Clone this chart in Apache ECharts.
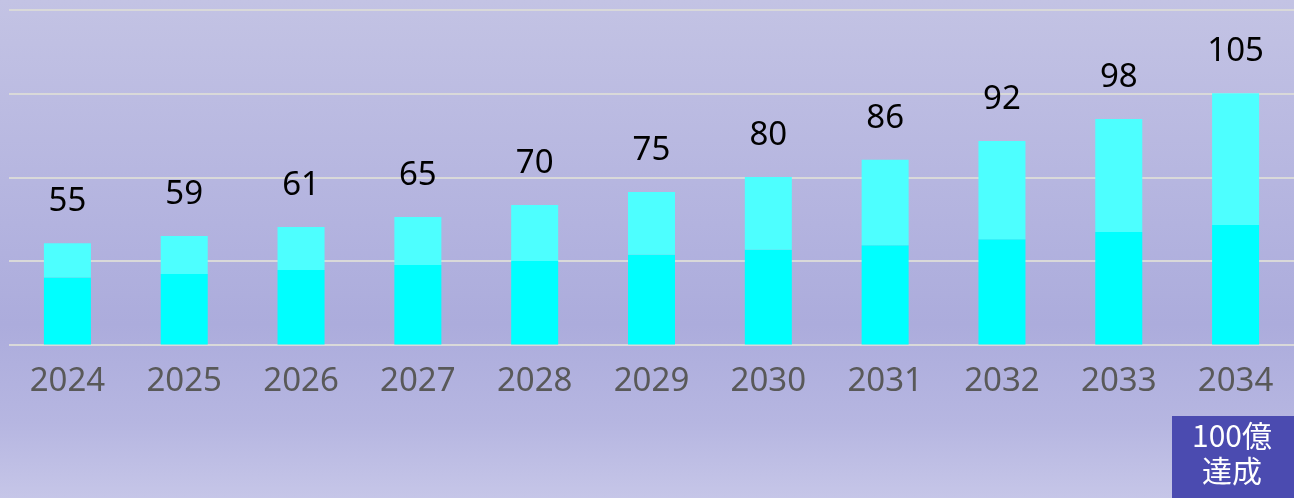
<!DOCTYPE html>
<html lang="ja">
<head>
    <meta charset="UTF-8">
    <title>売上推移</title>
    <style>
        html,body{
            margin: 0;
            padding: 0;
            width: 100%;
            height: 100%;
        }
        body{
            background: linear-gradient(to bottom, #c3c3e4 0%, #b3b3df 45%, #acacdc 65%, #b6b6e1 85%, #c6c6e8 100%);
        }
        #chartmain{
            width: 1294px;
            height: 498px;
        }
    </style>
</head>
<body>
<div id="chartmain"></div>

<script src="https://cdn.jsdelivr.net/npm/echarts@6/dist/echarts.min.js"></script>
<script type="text/javascript">
    // 年度
    var years = ['2024', '2025', '2026', '2027', '2028', '2029', '2030', '2031', '2032', '2033', '2034'];
    // 下段（濃いシアン）
    var lower = [20.0, 21.1, 22.3, 23.8, 25.0, 26.8, 28.3, 29.7, 31.5, 33.6, 35.7];
    // 上段（薄いシアン）
    var upper = [10.3, 11.3, 12.8, 14.3, 16.7, 18.8, 21.8, 25.5, 29.3, 33.8, 39.4];
    // 棒の上の数値
    var totals = [55, 59, 61, 65, 70, 75, 80, 86, 92, 98, 105];

    var myChart = echarts.init(document.getElementById('chartmain'));

    var option = {
        backgroundColor: 'transparent',
        animation: false,
        grid: {
            left: 9,
            right: 0,
            top: 10,
            bottom: 153.5
        },
        xAxis: {
            type: 'category',
            data: years,
            axisLine: {show: false},
            axisTick: {show: false},
            axisLabel: {
                color: '#595959',
                fontSize: 33,
                fontFamily: 'Noto Sans',
                margin: 21
            }
        },
        yAxis: {
            type: 'value',
            min: 0,
            max: 100,
            interval: 25,
            axisLabel: {show: false},
            axisLine: {show: false},
            axisTick: {show: false},
            splitLine: {
                lineStyle: {color: '#d9d9d9', width: 2}
            }
        },
        series: [
            {
                name: '下段',
                type: 'bar',
                stack: 'total',
                barWidth: 47,
                itemStyle: {color: '#00ffff'},
                data: lower
            },
            {
                name: '上段',
                type: 'bar',
                stack: 'total',
                barWidth: 47,
                itemStyle: {color: '#4dffff'},
                label: {
                    show: true,
                    position: 'top',
                    distance: 25,
                    color: '#000000',
                    fontSize: 33,
                    fontFamily: 'Noto Sans',
                    formatter: function (p) {
                        return totals[p.dataIndex];
                    }
                },
                data: upper
            }
        ],
        graphic: [
            {
                type: 'rect',
                left: 1172,
                top: 416,
                shape: {width: 122, height: 82},
                style: {fill: '#4b4bb0'}
            },
            {
                type: 'text',
                x: 1232,
                y: 418,
                style: {
                    text: '100億\n達成',
                    fill: '#ffffff',
                    font: '30px "Noto Sans CJK JP"',
                    lineHeight: 35,
                    align: 'center',
                    verticalAlign: 'top'
                }
            }
        ]
    };

    myChart.setOption(option);
</script>
</body>
</html>
